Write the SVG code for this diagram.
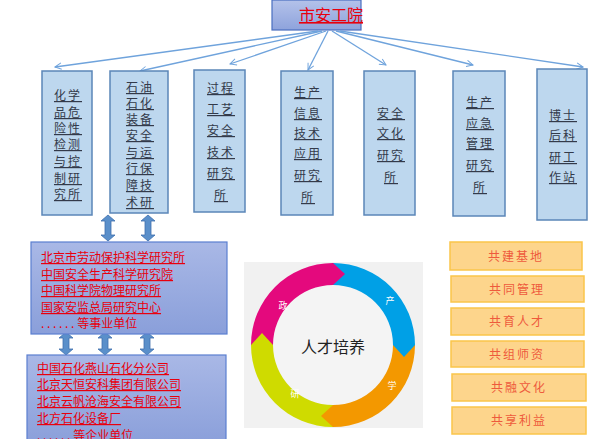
<svg xmlns="http://www.w3.org/2000/svg" width="611" height="439" viewBox="0 0 611 439">
<defs>
<linearGradient id="gt" x1="0" y1="0" x2="0" y2="1"><stop offset="0" stop-color="#b4c2ea"/><stop offset="1" stop-color="#8ea3dc"/></linearGradient>
<linearGradient id="gb" x1="0" y1="0" x2="0" y2="1"><stop offset="0" stop-color="#a9b8e6"/><stop offset="1" stop-color="#8a9fda"/></linearGradient>
<marker id="ah" viewBox="0 0 10 10" refX="9" refY="5" markerWidth="8" markerHeight="8" orient="auto" markerUnits="userSpaceOnUse"><path d="M1,1 L9,5 L1,9" fill="none" stroke="#6fa3dc" stroke-width="1.2"/></marker>
<path id="da" d="M-3,-11 L-3,-6 L-7,-6 L0,0 L7,-6 L3,-6 L3,-11 Z"/>
</defs>
<style>
.col{fill:#bdd7ee;stroke:#5b86b8;stroke-width:1.5}
.ct{font-family:"Noto Sans CJK SC",sans-serif;font-size:12px;fill:#333a4a;text-decoration:underline;text-anchor:middle;letter-spacing:2px}
.rt{font-family:"Noto Sans CJK SC",sans-serif;font-size:12px;fill:#e8000d;text-decoration:underline}
.ob{fill:#fdd58c;stroke:#fac54a;stroke-width:1.5}
.ot{font-family:"Noto Sans CJK SC",sans-serif;font-size:12px;fill:#ee5a3c;text-anchor:middle;letter-spacing:2px}
.dbl{fill:#5a8fca;stroke:#3f70ad;stroke-width:0.8}
.rl{font-family:"Noto Sans CJK SC",sans-serif;font-size:9px;fill:#fff;text-anchor:middle}
</style>
<g id="top"><rect x="272" y="0" width="89" height="30" fill="url(#gt)" stroke="#4a6fc0" stroke-width="1.2"/><text x="331" y="21" text-anchor="middle" font-family="Noto Sans CJK SC,sans-serif" font-size="16" fill="#e8000d" text-decoration="underline">市安工院</text></g>
<g id="connectors" stroke="#6fa3dc" stroke-width="1.3" fill="none" marker-end="url(#ah)">
<line x1="318" y1="31" x2="55" y2="67"/><line x1="322" y1="31" x2="140" y2="71"/><line x1="326" y1="31" x2="230" y2="64"/><line x1="328" y1="31" x2="308" y2="70"/><line x1="332" y1="31" x2="386" y2="65"/><line x1="336" y1="31" x2="473" y2="65"/><line x1="340" y1="31" x2="583" y2="67"/>
</g>
<g id="n1"><rect class="col" x="42" y="71" width="50" height="144"/><text class="ct"><tspan x="68" y="100">化学</tspan><tspan x="68" y="117">品危</tspan><tspan x="68" y="133">险性</tspan><tspan x="68" y="149">检测</tspan><tspan x="68" y="166">与控</tspan><tspan x="68" y="183">制研</tspan><tspan x="68" y="199">究所</tspan></text></g>
<g id="n2"><rect class="col" x="110" y="71" width="58" height="142"/><text class="ct"><tspan x="140" y="92">石油</tspan><tspan x="140" y="108">石化</tspan><tspan x="140" y="124">装备</tspan><tspan x="140" y="140">安全</tspan><tspan x="140" y="157">与运</tspan><tspan x="140" y="173">行保</tspan><tspan x="140" y="190">障技</tspan><tspan x="140" y="207">术研</tspan></text></g>
<g id="n3"><rect class="col" x="194" y="70" width="51" height="142"/><text class="ct"><tspan x="221" y="93">过程</tspan><tspan x="221" y="114">工艺</tspan><tspan x="221" y="135">安全</tspan><tspan x="221" y="157">技术</tspan><tspan x="221" y="178">研究</tspan><tspan x="221" y="200">所</tspan></text></g>
<g id="n4"><rect class="col" x="281" y="71" width="52" height="144"/><text class="ct"><tspan x="308" y="97">生产</tspan><tspan x="308" y="118">信息</tspan><tspan x="308" y="138">技术</tspan><tspan x="308" y="158">应用</tspan><tspan x="308" y="180">研究</tspan><tspan x="308" y="202">所</tspan></text></g>
<g id="n5"><rect class="col" x="364" y="71" width="51" height="144"/><text class="ct"><tspan x="391" y="118">安全</tspan><tspan x="391" y="138">文化</tspan><tspan x="391" y="160">研究</tspan><tspan x="391" y="182">所</tspan></text></g>
<g id="n6"><rect class="col" x="453" y="71" width="52" height="145"/><text class="ct"><tspan x="480" y="107">生产</tspan><tspan x="480" y="128">应急</tspan><tspan x="480" y="148">管理</tspan><tspan x="480" y="170">研究</tspan><tspan x="480" y="192">所</tspan></text></g>
<g id="n7"><rect class="col" x="537" y="69" width="50" height="151"/><text class="ct"><tspan x="563" y="120">博士</tspan><tspan x="563" y="140">后科</tspan><tspan x="563" y="162">研工</tspan><tspan x="563" y="182">作站</tspan></text></g>
<g id="arrows">
<g transform="translate(108,218)"><path class="dbl" d="M-3,3 L-3,17 L-7,17 L0,23 L7,17 L3,17 L3,3 L7,3 L0,-3 L-7,3 Z"/></g>
<g transform="translate(148,218)"><path class="dbl" d="M-3,3 L-3,17 L-7,17 L0,23 L7,17 L3,17 L3,3 L7,3 L0,-3 L-7,3 Z"/></g>
<g transform="translate(66,335)"><path class="dbl" d="M-3,3 L-3,14 L-7,14 L0,20 L7,14 L3,14 L3,3 L7,3 L0,-3 L-7,3 Z"/></g>
<g transform="translate(105,335)"><path class="dbl" d="M-3,3 L-3,14 L-7,14 L0,20 L7,14 L3,14 L3,3 L7,3 L0,-3 L-7,3 Z" fill="#3d6db5"/></g>
<g transform="translate(147,335)"><path class="dbl" d="M-3,3 L-3,14 L-7,14 L0,20 L7,14 L3,14 L3,3 L7,3 L0,-3 L-7,3 Z"/></g>
</g>
<g id="orgA"><rect x="31" y="242" width="196" height="92" fill="url(#gb)" stroke="#5b7fd0" stroke-width="1.2"/><text class="rt"><tspan x="41" y="262">北京市劳动保护科学研究所</tspan><tspan x="41" y="279">中国安全生产科学研究院</tspan><tspan x="41" y="295">中国科学院物理研究所</tspan><tspan x="41" y="312">国家安监总局研究中心</tspan></text><text x="41" y="328" font-family="Noto Sans CJK SC,sans-serif" font-size="12" fill="#e8000d">. . . . . . 等事业单位</text></g>
<g id="orgB"><rect x="27" y="355" width="199" height="90" fill="url(#gb)" stroke="#5b7fd0" stroke-width="1.2"/><text class="rt"><tspan x="37" y="373">中国石化燕山石化分公司</tspan><tspan x="37" y="389">北京天恒安科集团有限公司</tspan><tspan x="37" y="406">北京云帆沧海安全有限公司</tspan><tspan x="37" y="423">北方石化设备厂</tspan></text><text x="37" y="440" font-family="Noto Sans CJK SC,sans-serif" font-size="12" fill="#e8000d">. . . . . . 等企业单位</text></g>
<g id="ring">
<rect x="244" y="262" width="179" height="166" fill="#f1f1f1"/>
<circle cx="333" cy="345" r="60" fill="#f4f4f4"/>
<path d="M251,345 A82,82 0 0 1 333,263 L333,285 A60,60 0 0 0 273,345 Z" fill="#e4097d"/>
<path d="M333,263 A82,82 0 0 1 415,345 L393,345 A60,60 0 0 0 333,285 Z" fill="#00a0e6"/>
<path d="M415,345 A82,82 0 0 1 333,427 L333,405 A60,60 0 0 0 393,345 Z" fill="#f39800"/>
<path d="M333,427 A82,82 0 0 1 251,345 L273,345 A60,60 0 0 0 333,405 Z" fill="#cfdb00"/>
<path d="M333,263 L333,285 L345,274 Z" fill="#e4097d"/>
<path d="M415,345 L393,345 L404,357 Z" fill="#00a0e6"/>
<path d="M333,427 L333,405 L321,416 Z" fill="#f39800"/>
<path d="M251,345 L273,345 L262,333 Z" fill="#cfdb00"/>
<text class="rl" x="283" y="309">政</text><text class="rl" x="390" y="304">产</text><text class="rl" x="392" y="389">学</text><text class="rl" x="295" y="397">研</text>
<text x="333" y="353" text-anchor="middle" font-family="Noto Sans CJK SC,sans-serif" font-size="16" fill="#222">人才培养</text>
</g>
<g id="r1"><rect class="ob" x="450" y="242" width="132" height="28"/><text class="ot" x="516" y="261">共建基地</text></g>
<g id="r2"><rect class="ob" x="451" y="276" width="133" height="26"/><text class="ot" x="517" y="294">共同管理</text></g>
<g id="r3"><rect class="ob" x="451" y="308" width="133" height="27"/><text class="ot" x="517" y="326">共育人才</text></g>
<g id="r4"><rect class="ob" x="451" y="341" width="133" height="26"/><text class="ot" x="517" y="359">共组师资</text></g>
<g id="r5"><rect class="ob" x="452" y="374" width="134" height="27"/><text class="ot" x="519" y="392">共融文化</text></g>
<g id="r6"><rect class="ob" x="452" y="407" width="134" height="27"/><text class="ot" x="519" y="425">共享利益</text></g>
</svg>
